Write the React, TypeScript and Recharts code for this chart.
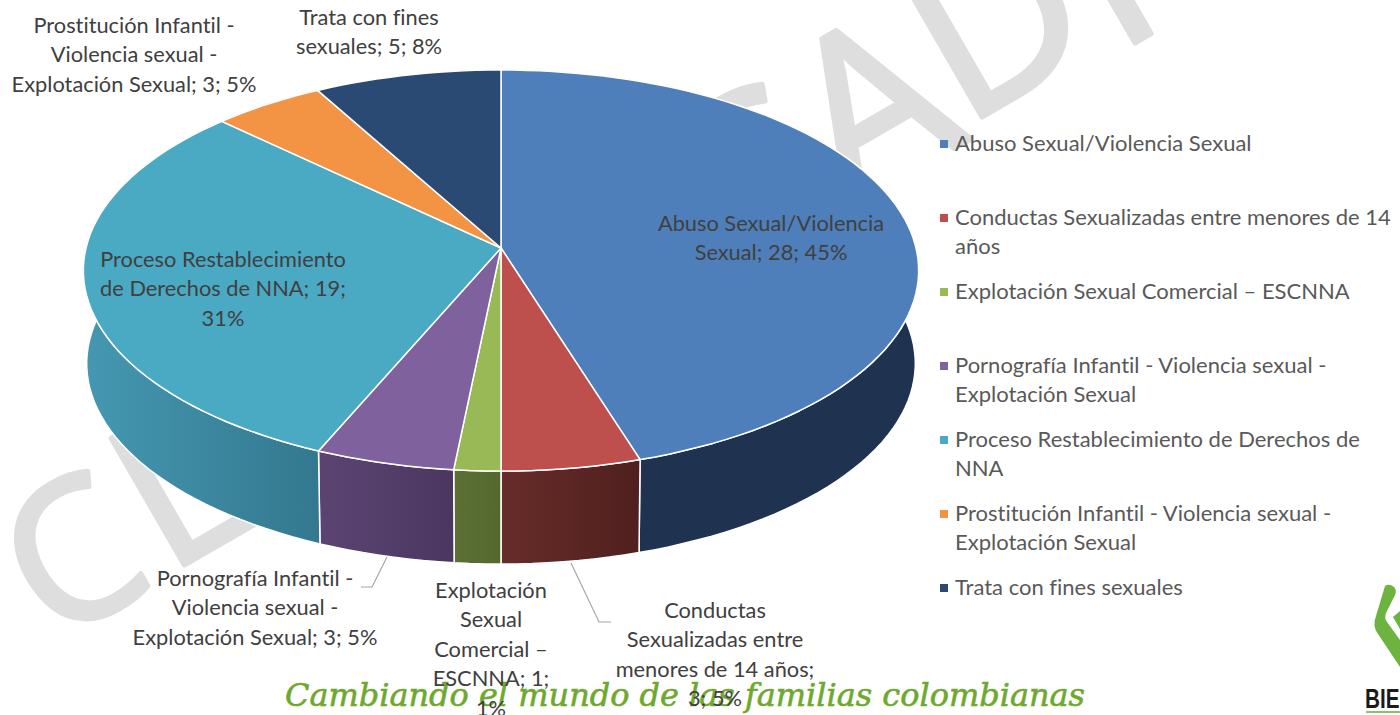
import { Legend, Pie, PieChart } from "recharts";

const categories = [
  "Abuso Sexual/Violencia Sexual",
  "Conductas Sexualizadas entre menores de 14 años",
  "Explotación Sexual Comercial – ESCNNA",
  "Pornografía Infantil - Violencia sexual - Explotación Sexual",
  "Proceso Restablecimiento de Derechos de NNA",
  "Prostitución Infantil - Violencia sexual - Explotación Sexual",
  "Trata con fines sexuales",
];
const counts = [28, 3, 1, 3, 19, 3, 5];
const topColors = ["#4e7fba", "#bd4f4c", "#98b956", "#7f619e", "#4aa9c3", "#f39445", "#2b4a73"];
const wallFrom = ["#1f3350", "#672c29", "#5b7034", "#5c4472", "#4598b2", "#b06a30", "#1f3350"];
const wallTo = ["#1f3350", "#4f201e", "#55692f", "#4a3760", "#33788e", "#b06a30", "#1f3350"];

const legendLines = [
  ["Abuso Sexual/Violencia Sexual"],
  ["Conductas Sexualizadas entre menores de 14", "años"],
  ["Explotación Sexual Comercial – ESCNNA"],
  ["Pornografía Infantil - Violencia sexual -", "Explotación Sexual"],
  ["Proceso Restablecimiento de Derechos de", "NNA"],
  ["Prostitución Infantil - Violencia sexual -", "Explotación Sexual"],
  ["Trata con fines sexuales"],
];
const labelLines = [
  ["Abuso Sexual/Violencia", "Sexual; 28; 45%"],
  ["Conductas", "Sexualizadas entre", "menores de 14 años;", "3; 5%"],
  ["Explotación", "Sexual", "Comercial –", "ESCNNA; 1;", "1%"],
  ["Pornografía Infantil -", "Violencia sexual -", "Explotación Sexual; 3; 5%"],
  ["Proceso Restablecimiento", "de Derechos de NNA; 19;", "31%"],
  ["Prostitución Infantil -", "Violencia sexual -", "Explotación Sexual; 3; 5%"],
  ["Trata con fines", "sexuales; 5; 8%"],
];

// where each data label sits: centre x, first baseline
const labelPos = [
  [771, 231],
  [715, 618],
  [491, 598],
  [255, 586],
  [223, 267],
  [134, 33],
  [369, 25],
];
const leaders: Record<number, string> = {
  1: "571,563 599,622 611,622",
  3: "387,557 372,587 361,587",
};

// faint stamp behind the chart: letter, x, y, size
const stamp: [string, number, number, number][] = [
  ["C", 53, 645, 195],
  ["L", 167, 575, 205],
  ["S", 745, 272, 225],
  ["A", 848, 210, 225],
  ["D", 963, 128, 225],
  ["I", 1116, 54, 225],
];

const pieData = categories.map((name, i) => ({ name, value: counts[i], fill: topColors[i] }));

const FONT = "Lato, 'Open Sans', sans-serif";
const CX = 501;
const CY = 248;
const RADIUS = 415;
const SQUASH = 0.4771;
const PERSP = 8.91;
const DEPTH = 93;
const BOTTOM_SCALE = 0.992;

// recharts angle -> point on the tilted disc, the far edge is foreshortened
function project(angle: number, scale = 1, drop = 0) {
  const t = ((90 - angle) * Math.PI) / 180;
  const X = Math.sin(t);
  const Y = -Math.cos(t);
  const k = PERSP / (PERSP - Y);
  return [CX + RADIUS * scale * X * k, CY + RADIUS * SQUASH * Y * k + drop];
}

function arcPoints(start: number, end: number, scale = 1, drop = 0) {
  const steps = Math.max(2, Math.ceil(Math.abs(end - start) / 2));
  const pts: number[][] = [];
  for (let i = 0; i <= steps; i++) {
    pts.push(project(start + ((end - start) * i) / steps, scale, drop));
  }
  return pts;
}

const toPath = (pts: number[][]) => "M" + pts.map((p) => p[0].toFixed(1) + " " + p[1].toFixed(1)).join("L") + "Z";

function TopSlice(props: any) {
  const pts = [[CX, CY], ...arcPoints(props.startAngle, props.endAngle)];
  return <path d={toPath(pts)} fill={props.payload?.fill ?? props.fill} stroke="#fff" strokeWidth={1.5} strokeLinejoin="round" />;
}

function WallSlice(props: any) {
  const top = arcPoints(props.startAngle, props.endAngle);
  const bottom = arcPoints(props.startAngle, props.endAngle, BOTTOM_SCALE, DEPTH).reverse();
  return <path d={toPath([...top, ...bottom])} fill={`url(#wall${props.index})`} stroke="#fff" strokeWidth={1.5} strokeLinejoin="round" />;
}

function DataLabel(props: any) {
  const i = props.index;
  const [x, y] = labelPos[i];
  return (
    <g>
      {leaders[i] && <polyline points={leaders[i]} fill="none" stroke="#a6a6a6" strokeWidth={1.2} />}
      <text x={x} y={y} textAnchor="middle" fontFamily={FONT} fontSize={21.8} fill="#404040" style={{ fontVariantLigatures: "none" }}>
        {labelLines[i].map((line, k) => (
          <tspan key={k} x={x} y={y + k * 29.4}>
            {line}
          </tspan>
        ))}
      </text>
    </g>
  );
}

function LegendBox() {
  return (
    <div style={{ position: "relative", width: 460, height: 480, fontFamily: FONT, fontSize: 22, lineHeight: "29px", color: "#595959", fontVariantLigatures: "none" }}>
      {legendLines.map((lines, i) => (
        <div key={i} style={{ position: "absolute", left: 15, top: i * 74, whiteSpace: "nowrap" }}>
          <span style={{ position: "absolute", left: -15, top: 12, width: 8, height: 8, background: topColors[i] }} />
          {lines.map((l, k) => (
            <div key={k}>{l}</div>
          ))}
        </div>
      ))}
    </div>
  );
}

export default function App() {
  return (
    <div style={{ position: "fixed", left: 0, top: 0, width: 1400, height: 715, overflow: "hidden", background: "#fff" }}>
      <svg width={1400} height={715} style={{ position: "absolute", left: 0, top: 0 }}>
        <g fill="#dedede" stroke="#dedede" strokeWidth={5} strokeLinejoin="round" fontFamily="'Open Sans', sans-serif">
          {stamp.map(([ch, x, y, size]) => (
            <text key={ch} transform={`translate(${x} ${y}) rotate(-30)`} fontSize={size}>
              {ch}
            </text>
          ))}
        </g>
        <text x={285} y={706} fontFamily="'DejaVu Serif', serif" fontStyle="italic" fontSize={32} fill="#6fa82e" stroke="#6fa82e" strokeWidth={0.6} textLength={800} lengthAdjust="spacingAndGlyphs">
          Cambiando el mundo de las familias colombianas
        </text>
        <path d="M1385 586 Q1389 583 1394 587 Q1397 590 1395 595 L1386 613 Q1384 618 1387 622 L1400 640 L1400 667 L1378 634 Q1372 626 1376 616 Z" fill="#6cb33f" />
        <path d="M1393 617 L1400 611 L1400 629 Z" fill="#6cb33f" />
        <text transform="translate(1365 708) scale(0.74 1)" fontFamily="'Liberation Sans', sans-serif" fontWeight={700} fontSize={28} fill="#1a1a1a">
          BIE
        </text>
        <rect x={1366} y={711} width={34} height={2} fill="#8cc36a" />
      </svg>
      <div style={{ position: "absolute", left: 0, top: 0 }}>
        <PieChart width={1400} height={715} margin={{ top: 0, right: 0, bottom: 0, left: 0 }}>
          <defs>
            {wallFrom.map((c, i) => (
              <linearGradient key={i} id={`wall${i}`} x1="0" y1="0" x2="1" y2="0">
                <stop offset="0%" stopColor={c} />
                <stop offset="100%" stopColor={wallTo[i]} />
              </linearGradient>
            ))}
          </defs>
          <Pie
            data={pieData}
            dataKey="value"
            nameKey="name"
            cx={CX}
            cy={CY}
            outerRadius={RADIUS}
            startAngle={90}
            endAngle={-270}
            legendType="none"
            shape={WallSlice}
            isAnimationActive={false}
          />
          <Pie
            data={pieData}
            dataKey="value"
            nameKey="name"
            cx={CX}
            cy={CY}
            outerRadius={RADIUS}
            startAngle={90}
            endAngle={-270}
            shape={TopSlice}
            label={DataLabel}
            labelLine={false}
            isAnimationActive={false}
          />
          <Legend content={<LegendBox />} layout="vertical" wrapperStyle={{ left: 940, top: 128, width: 460 }} />
        </PieChart>
      </div>
    </div>
  );
}
